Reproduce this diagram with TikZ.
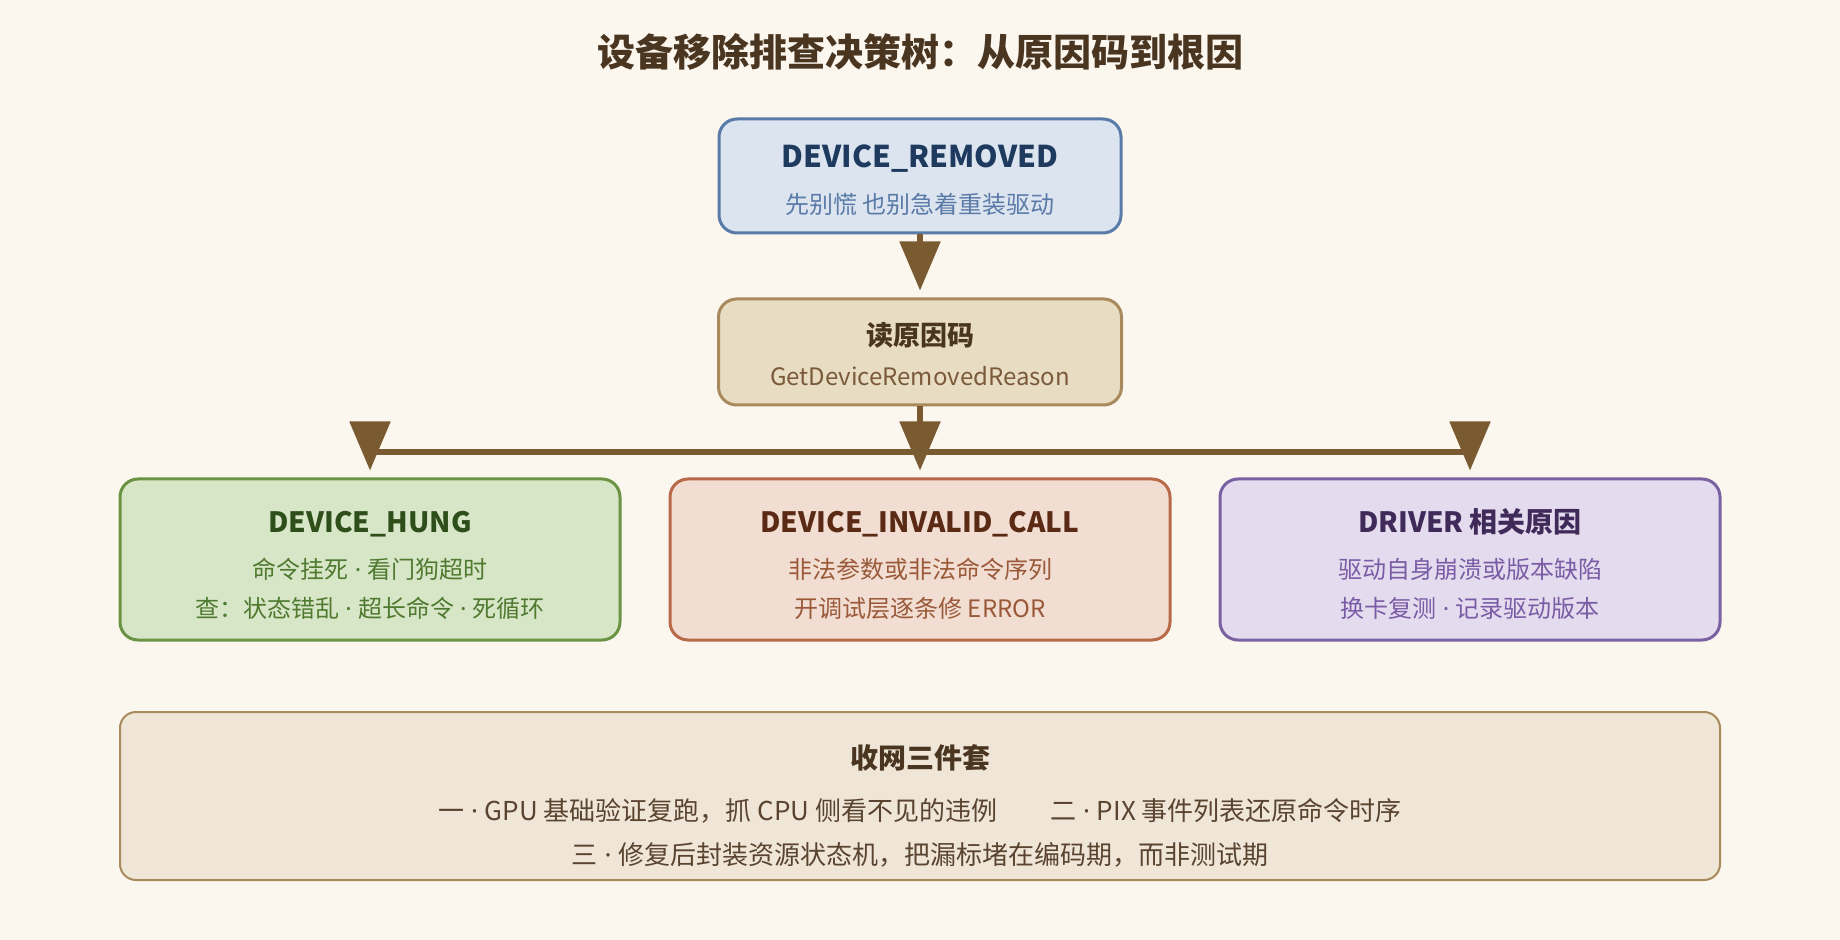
\documentclass[tikz,border=0pt]{standalone}
\usepackage{fontspec}
\setmainfont{Noto Sans CJK SC}
\newfontfamily\latf{Noto Sans}
\newcommand{\md}{\mbox{\latf\ ·\ }}
\usetikzlibrary{arrows.meta}
\definecolor{bgc}{HTML}{FBF6EE}
\definecolor{ttl}{HTML}{4A3520}
\definecolor{arr}{HTML}{7A5A30}
\definecolor{tfill}{HTML}{DCE4EF}\definecolor{tdraw}{HTML}{5A7AA8}\definecolor{ttitle}{HTML}{1F3A5F}\definecolor{ttext}{HTML}{5A7AA8}
\definecolor{rfill}{HTML}{E8DCC2}\definecolor{rdraw}{HTML}{A88A5C}\definecolor{rtitle}{HTML}{4A3520}\definecolor{rtext}{HTML}{7A5A3A}
\definecolor{hfill}{HTML}{D8E6C8}\definecolor{hdraw}{HTML}{6A9444}\definecolor{htitle}{HTML}{2F4F1A}\definecolor{htext}{HTML}{4F7A2F}
\definecolor{ifill}{HTML}{F2DDD2}\definecolor{idraw}{HTML}{B86A48}\definecolor{ititle}{HTML}{5A2A14}\definecolor{itext}{HTML}{9A5A3A}
\definecolor{dfill}{HTML}{E4DCEE}\definecolor{ddraw}{HTML}{7A62A2}\definecolor{dtitle}{HTML}{3F2A5A}\definecolor{dtext}{HTML}{7A5CA6}
\definecolor{bfill}{HTML}{EFE6D8}\definecolor{bdraw}{HTML}{A88A5C}\definecolor{btext}{HTML}{5A4430}
\begin{document}
\begin{tikzpicture}[x=0.5pt,y=-0.5pt,
  box/.style={draw, rounded corners=9pt, line width=1.5pt, inner sep=0pt},
  txt/.style={inner sep=0pt, text height=0.72em, text depth=0pt, anchor=center},
  conn/.style={draw=arr, line width=2.6pt},
  arrowc/.style={draw=arr, line width=2.6pt, -{Triangle[length=24.5pt,width=20pt,fill=arr]}, shorten >=3.5pt},
]
\fill[bgc] (0,0) rectangle (1840,940);
\useasboundingbox (0,0) rectangle (1840,940);

\node[txt, font=\fontsize{19}{22}\selectfont\bfseries, text=ttl] (title) at (920,59) {设备移除排查决策树：从原因码到根因};

% top box
\node[box, fill=tfill, draw=tdraw, minimum width=201pt, minimum height=57pt] (top) at (920,176) {};
\node[txt, font=\fontsize{15}{18}\selectfont\bfseries, text=ttitle] (topt) at (920,160.5) {DEVICE\_REMOVED};
\node[txt, font=\fontsize{12}{14}\selectfont, text=ttext] (tops) at (920,206) {先别慌 也别急着重装驱动};

% reason box
\node[box, fill=rfill, draw=rdraw, minimum width=201.5pt, minimum height=53pt] (reason) at (920,352) {};
\node[txt, font=\fontsize{13.5}{16}\selectfont\bfseries, text=rtitle] (reat) at (920,338) {读原因码};
\node[txt, font=\fontsize{12}{14}\selectfont, text=rtext] (reas) at (920,378) {GetDeviceRemovedReason};

% branch boxes
\node[box, fill=hfill, draw=hdraw, minimum width=250pt, minimum height=80.5pt] (hung) at (370,559.5) {};
\node[txt, font=\fontsize{14}{16}\selectfont\bfseries, text=htitle] (hungt) at (370,525.5) {DEVICE\_HUNG};
\node[txt, font=\fontsize{12}{14}\selectfont, text=htext] (hung1) at (370,571) {命令挂死\md 看门狗超时};
\node[txt, font=\fontsize{12}{14}\selectfont, text=htext] (hung2) at (370,610) {查：状态错乱\md 超长命令\md 死循环};

\node[box, fill=ifill, draw=idraw, minimum width=250pt, minimum height=80.5pt] (inv) at (920,559.5) {};
\node[txt, font=\fontsize{14}{16}\selectfont\bfseries, text=ititle] (invt) at (920,525.5) {DEVICE\_INVALID\_CALL};
\node[txt, font=\fontsize{12}{14}\selectfont, text=itext] (inv1) at (920,571) {非法参数或非法命令序列};
\node[txt, font=\fontsize{12}{14}\selectfont, text=itext] (inv2) at (920,610) {开调试层逐条修 ERROR};

\node[box, fill=dfill, draw=ddraw, minimum width=250pt, minimum height=80.5pt] (drv) at (1470,559.5) {};
\node[txt, font=\fontsize{14}{16}\selectfont\bfseries, text=dtitle] (drvt) at (1470,525.5) {DRIVER 相关原因};
\node[txt, font=\fontsize{12}{14}\selectfont, text=dtext] (drv1) at (1470,571) {驱动自身崩溃或版本缺陷};
\node[txt, font=\fontsize{12}{14}\selectfont, text=dtext] (drv2) at (1470,610) {换卡复测\md 记录驱动版本};

% bottom box
\node[box, fill=bfill, draw=bdraw, line width=1pt, rounded corners=8pt, minimum width=800pt, minimum height=84pt] (bot) at (920,796) {};
\node[txt, font=\fontsize{14}{16}\selectfont\bfseries, text=ttl] (bott) at (920,761) {收网三件套};
\node[txt, font=\fontsize{13}{15}\selectfont, text=btext] (bot1) at (920,813.5) {一\md GPU 基础验证复跑，抓 CPU 侧看不见的违例\hspace{2.05em}二\md PIX 事件列表还原命令时序};
\node[txt, font=\fontsize{13}{15}\selectfont, text=btext] (bot2) at (920,857.5) {三\md 修复后封装资源状态机，把漏标堵在编码期，而非测试期};

% connectors
\coordinate (bl) at (370,452);
\coordinate (bm) at (920,452);
\coordinate (br) at (1470,452);
\draw[arrowc] (top.south) -- (reason.north);
\draw[conn] (bl) -- (br);
\draw[arrowc] (reason.south) -- (inv.north);
\draw[arrowc] (bl) -- (hung.north);
\draw[arrowc] (br) -- (drv.north);
\end{tikzpicture}
\end{document}
